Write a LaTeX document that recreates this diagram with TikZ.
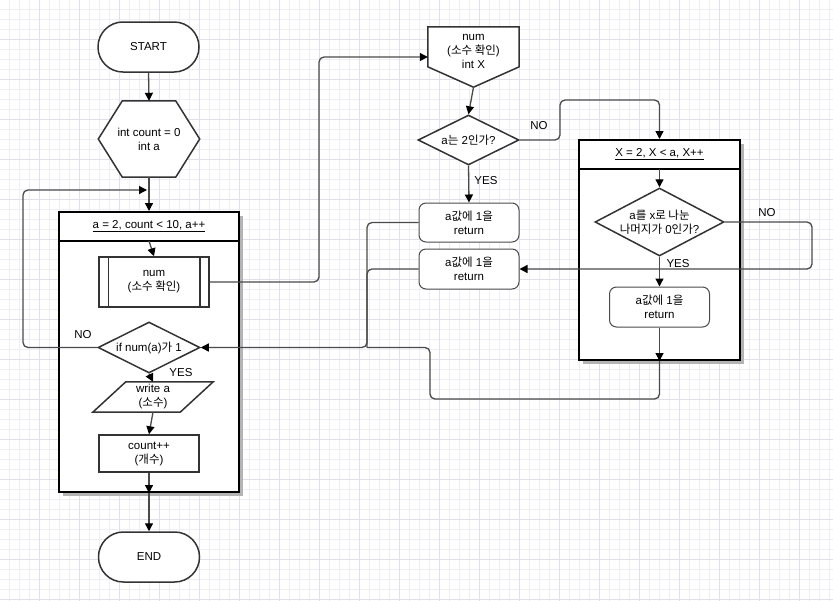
\documentclass[tikz,border=0pt]{standalone}
\usepackage{fontspec}
\setmainfont{Liberation Sans}
\newfontfamily\korfont{Noto Sans CJK KR}
\newcommand\kor[1]{{\korfont #1}}
\usetikzlibrary{shapes.geometric,arrows.meta,calc}
\definecolor{gridminor}{HTML}{EEEEF4}
\definecolor{gridmajor}{HTML}{E0E0EA}
\definecolor{shapeln}{HTML}{333333}
\definecolor{connln}{HTML}{4A4A4A}
\definecolor{shadowc}{HTML}{B4B4B4}
\tikzset{
  base/.style={draw=shapeln, line width=1.5pt, fill=white, inner sep=0pt, align=center},
  term/.style={base, rounded corners=24.9pt, minimum width=101pt, minimum height=50pt},
  box/.style={base, minimum width=100pt, minimum height=37pt},
  retbox/.style={draw=connln, line width=1pt, fill=white, rounded corners=7pt, inner sep=0pt, align=center, minimum width=100pt, minimum height=40pt},
  frame/.style={draw=shapeln, line width=1.5pt, fill=white},
  geom/.style={inner sep=0pt, draw=none},
  txt/.style={inner sep=0pt, align=center},
  loopbox/.style={draw=black, line width=2pt, fill=white, inner sep=0pt},
  conn/.style={draw=connln, line width=1.3pt, rounded corners=5pt},
  arr/.style={conn, -{Triangle[length=8pt,width=8pt,color=black]}},
  lbl/.style={inner sep=0pt}
}
\begin{document}
\begin{tikzpicture}[x=1pt,y=-1pt,font=\fontsize{11.5}{14}\selectfont]
\useasboundingbox (0,0) rectangle (833,600);
\fill[white] (0,0) rectangle (833,600);
\draw[gridminor, line width=0.6pt, step=10pt, xshift=-1pt, yshift=1pt] (1,-1) grid (843,610);
\draw[gridmajor, line width=0.6pt, step=40pt, xshift=-1pt, yshift=1pt] (1,-1) grid (843,610);

% ---------- left column ----------
\node[term] (start) at (148.5,47) {START};

\node[geom, minimum width=101pt, minimum height=76pt] (init) at (149,139) {};
\draw[frame] (init.west) -- ($(init.north west)+(24,0)$) -- ($(init.north east)+(-24,0)$) -- (init.east)
  -- ($(init.south east)+(-24,0)$) -- ($(init.south west)+(24,0)$) -- cycle;
\node[txt] (initt) at (init) {int count = 0\\int a};

% outer loop box
\fill[shadowc] (63,216) rectangle (243,496);
\node[loopbox, minimum width=180pt, minimum height=280pt] (loop1) at (149,352) {};
\coordinate (l1h) at ($(loop1.north)+(0,30)$);
\draw[black, line width=2pt] ($(loop1.north west)+(0,30)$) -- ($(loop1.north east)+(0,30)$);
\node[txt] (l1t) at ($(loop1.north)+(0,15)$) {\underline{a = 2, count < 10, a++}};

\node[base, minimum width=110pt, minimum height=50pt] (sub) at (154,282) {num\\(\kor{소수 확인})};
\draw[shapeln, line width=1.5pt] ($(sub.north west)+(10,0)$) -- ($(sub.south west)+(10,0)$);
\draw[shapeln, line width=1.5pt] ($(sub.north east)+(-10,0)$) -- ($(sub.south east)+(-10,0)$);

\node[diamond, base, minimum width=102pt, minimum height=51pt] (ifd) at (149,347.5) {};
\node[txt] (ifdt) at (ifd) {if num(a)\kor{가} 1};

\node[geom, minimum width=120pt, minimum height=30pt] (par) at (153,397) {};
\draw[frame] ($(par.north west)+(33,0)$) -- (par.north east) -- ($(par.south east)+(-33,0)$) -- (par.south west) -- cycle;
\node[txt] (part) at (par) {write a\\(\kor{소수})};

\node[box] (cnt) at (149,453.5) {count++\\(\kor{개수})};

\node[term] (end) at (149,557) {END};

% ---------- right part ----------
\node[geom, minimum width=91pt, minimum height=60pt] (numx) at (473.5,57) {};
\draw[frame] (numx.north west) -- (numx.north east) -- ($(numx.north east)+(0,40)$) -- (numx.south)
  -- ($(numx.north west)+(0,40)$) -- cycle;
\node[txt] (numxt) at (473.5,51) {num\\(\kor{소수 확인})\\int X};

\node[diamond, base, minimum width=101pt, minimum height=50pt] (d1) at (468.5,140) {};
\node[txt] (d1t) at (d1) {a\kor{는} 2\kor{인가}?};

\node[retbox, minimum height=39pt] (ret1) at (469,222.5) {a\kor{값에} 1\kor{을}\\return};
\node[retbox] (ret2) at (469,269) {a\kor{값에} 1\kor{을}\\return};

% inner loop box
\fill[shadowc] (583,144) rectangle (744,364);
\node[loopbox, minimum width=161pt, minimum height=220pt] (loop2) at (659.5,250) {};
\coordinate (l2h) at ($(loop2.north)+(0,30)$);
\draw[black, line width=2pt] ($(loop2.north west)+(0,30)$) -- ($(loop2.north east)+(0,30)$);
\node[txt] (l2t) at ($(loop2.north)+(0,15)$) {\underline{X = 2, X < a, X++}};

\node[diamond, base, minimum width=129pt, minimum height=68pt] (d2) at (659.5,222) {};
\node[txt] (d2t) at (d2) {a\kor{를} x\kor{로 나눈}\\\kor{나머지가} 0\kor{인가}?};

\node[retbox] (ret3) at (659.5,307) {a\kor{값에} 1\kor{을}\\return};

% ---------- connectors ----------
\draw[arr] (start.south) -- (init.north);
\draw[arr] (init.south) -- (loop1.north);
\coordinate (backin) at (147,190);
\draw[arr] (ifd.west) -- (23,347.5) -- (23,190) -- (backin);
\node[lbl] (no1) at (83,335) {NO};

\draw[arr] (l1h) -- (sub.north);
\draw[arr] (sub.east) -- (319,282) -- (319,57) -- (numx.west);

\draw[arr] (ifd.south) -- (par.north);
\node[lbl] (yes1) at (181,373) {YES};
\draw[arr] (par.south) -- (cnt.north);
\draw[arr] (cnt.south) -- (loop1.south);
\draw[arr] (loop1.south) -- (end.north);

\draw[arr] (numx.south) -- (d1.north);
\draw[arr] (d1.east) -- (560,140) -- (560,100) -- (659.5,100) -- (loop2.north);
\node[lbl] (no2) at (539,126) {NO};
\draw[arr] (d1.south) -- (ret1.north);
\node[lbl] (yes2) at (486,181) {YES};

\coordinate (jx) at (367,347.5);
\draw[arr] (ret1.west) -- (367,222.5) -- (367,347.5) -- (ifd.east);
\draw[conn] (ret2.west) -- (367,269) -- (jx);

\draw[arr] (l2h) -- (d2.north);
\draw[arr] (d2.south) -- (ret3.north);
\node[lbl] (yes3) at (678,264) {YES};
\draw[arr] (d2.east) -- (812,222) -- (812,269) -- (ret2.east);
\node[lbl] (no3) at (767,213) {NO};
\draw[arr] (ret3.south) -- (loop2.south);
\draw[conn] (loop2.south) -- (659.5,399) -- (430,399) -- (430,347.5) -- (jx);
\end{tikzpicture}
\end{document}
